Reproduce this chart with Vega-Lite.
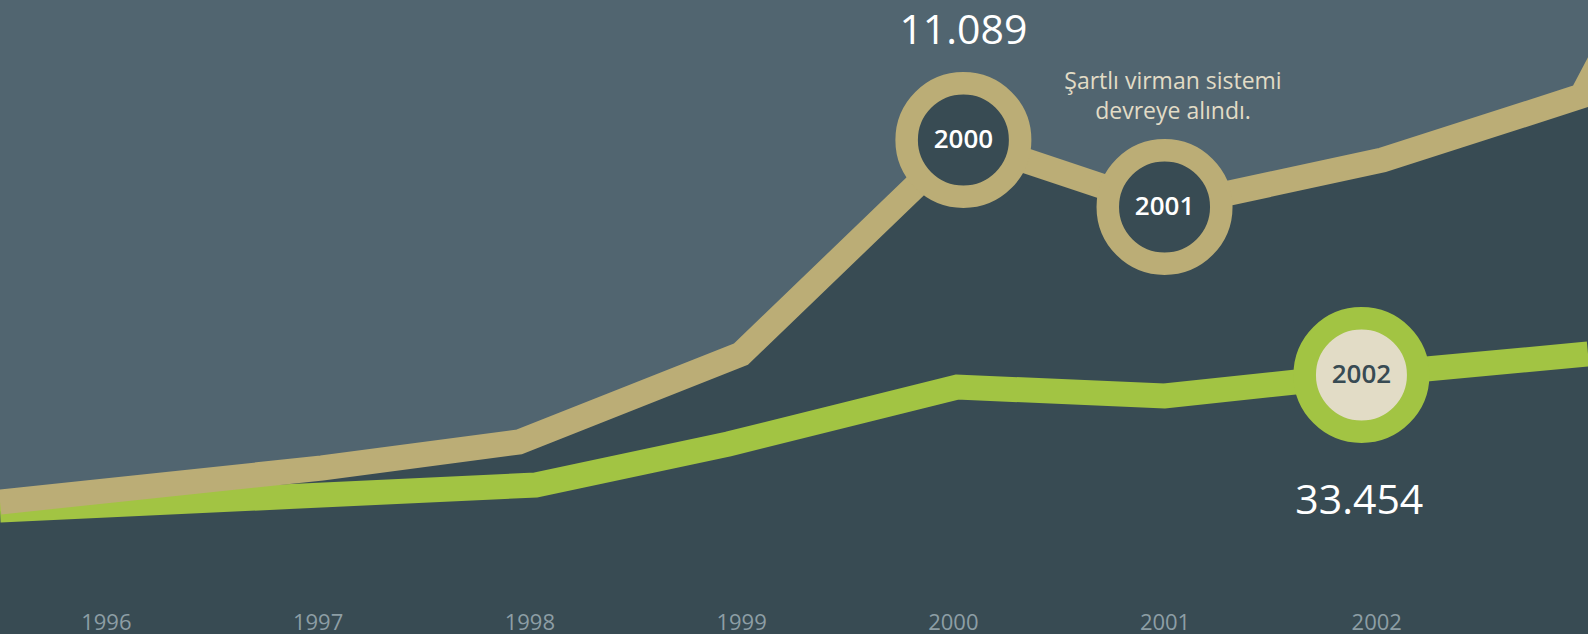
{
  "$schema": "https://vega.github.io/schema/vega-lite/v6.json",
  "width": 1588,
  "height": 634,
  "autosize": {"type": "fit", "contains": "padding"},
  "padding": 0,
  "background": "#516570",
  "config": {"view": {"stroke": null}, "font": "Open Sans"},
  "datasets": {
    "lines": [
      {"series": "tan", "year": 1995.5, "v": 132},
      {"series": "tan", "year": 1997.02, "v": 166},
      {"series": "tan", "year": 1997.95, "v": 192},
      {"series": "tan", "year": 1999.0, "v": 280},
      {"series": "tan", "year": 2000.05, "v": 494},
      {"series": "tan", "year": 2001.0, "v": 427},
      {"series": "tan", "year": 2002.03, "v": 474},
      {"series": "tan", "year": 2002.97, "v": 538},
      {"series": "tan", "year": 2003.1, "v": 590},
      {"series": "green", "year": 1995.5, "v": 124},
      {"series": "green", "year": 1998.03, "v": 149},
      {"series": "green", "year": 1998.94, "v": 190},
      {"series": "green", "year": 2000.02, "v": 247},
      {"series": "green", "year": 2001.0, "v": 238},
      {"series": "green", "year": 2001.93, "v": 259},
      {"series": "green", "year": 2003.0, "v": 280}
    ],
    "markers": [
      {"series": "tan", "year": 2000.05, "v": 494, "label": "2000"},
      {"series": "tan", "year": 2001.0, "v": 427, "label": "2001"},
      {"series": "green", "year": 2001.93, "v": 259, "label": "2002"}
    ],
    "values": [
      {"year": 2000.05, "v": 590, "text": "11.089"},
      {"year": 2001.92, "v": 120, "text": "33.454"}
    ],
    "notes": [
      {"year": 2001.04, "v": 552, "text": "Şartlı virman sistemi"},
      {"year": 2001.04, "v": 522, "text": "devreye alındı."}
    ]
  },
  "encoding": {
    "x": {
      "field": "year",
      "type": "quantitative",
      "scale": {"domain": [1995.5, 2003.0], "nice": false, "zero": false},
      "axis": {
        "values": [1996, 1997, 1998, 1999, 2000, 2001, 2002],
        "format": "d",
        "title": null,
        "domain": false,
        "ticks": false,
        "grid": false,
        "offset": -12,
        "zindex": 1,
        "labelPadding": 0,
        "labelBaseline": "middle",
        "labelFontSize": 22,
        "labelColor": "#8d9ea5",
        "labelFont": "Open Sans"
      }
    },
    "y": {
      "field": "v",
      "type": "quantitative",
      "scale": {"domain": [0, 634], "nice": false, "zero": true},
      "axis": null
    }
  },
  "layer": [
    {
      "data": {"name": "lines"},
      "transform": [{"filter": "datum.series === 'tan'"}],
      "mark": {"type": "area", "color": "#384b53", "clip": true}
    },
    {
      "data": {"name": "lines"},
      "transform": [{"filter": "datum.series === 'green'"}],
      "mark": {"type": "line", "color": "#a2c443", "strokeWidth": 25, "strokeJoin": "miter", "strokeCap": "butt", "clip": true}
    },
    {
      "data": {"name": "lines"},
      "transform": [{"filter": "datum.series === 'tan'"}],
      "mark": {"type": "line", "color": "#bbad76", "strokeWidth": 25, "strokeJoin": "miter", "strokeCap": "butt", "clip": true}
    },
    {
      "data": {"name": "markers"},
      "mark": {"type": "point", "shape": "circle", "size": 12882, "strokeWidth": 22.5, "opacity": 1, "filled": false},
      "encoding": {
        "stroke": {"field": "series", "type": "nominal", "scale": {"domain": ["tan", "green"], "range": ["#bbad76", "#a2c443"]}, "legend": null},
        "fill": {"field": "series", "type": "nominal", "scale": {"domain": ["tan", "green"], "range": ["#384b53", "#e2dcc6"]}, "legend": null}
      }
    },
    {
      "data": {"name": "markers"},
      "mark": {"type": "text", "fontSize": 26, "fontWeight": 600, "baseline": "middle", "align": "center", "font": "Open Sans"},
      "encoding": {
        "text": {"field": "label"},
        "color": {"field": "series", "type": "nominal", "scale": {"domain": ["tan", "green"], "range": ["#ffffff", "#384b53"]}, "legend": null}
      }
    },
    {
      "data": {"name": "values"},
      "mark": {"type": "text", "fontSize": 41, "color": "#ffffff", "baseline": "alphabetic", "align": "center", "font": "Open Sans"},
      "encoding": {"text": {"field": "text"}}
    },
    {
      "data": {"name": "notes"},
      "mark": {"type": "text", "fontSize": 23, "color": "#e2dcc6", "baseline": "middle", "align": "center", "font": "Open Sans"},
      "encoding": {"text": {"field": "text"}}
    }
  ]
}
